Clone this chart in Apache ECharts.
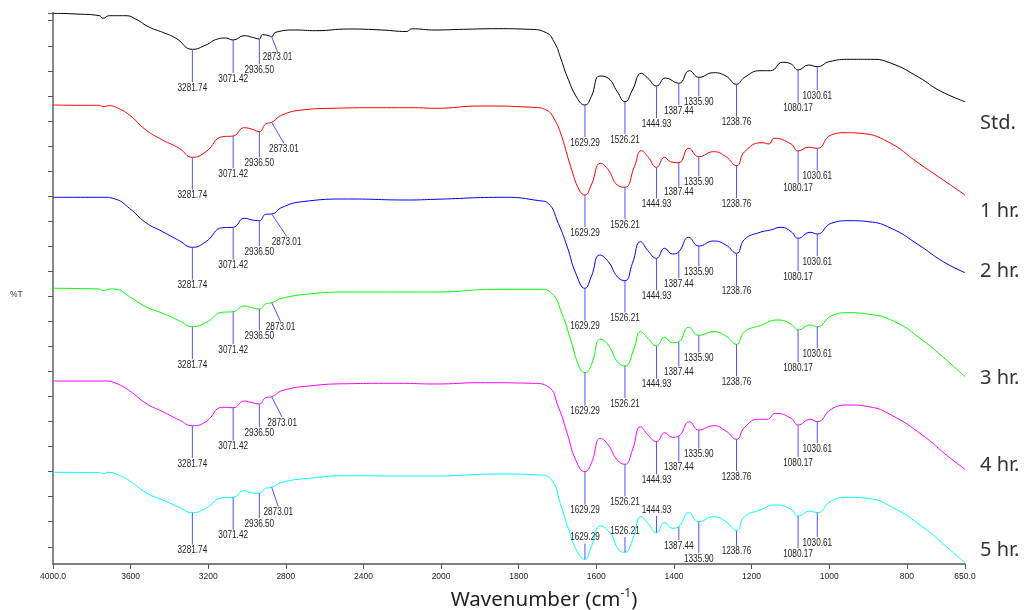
<!DOCTYPE html>
<html><head><meta charset="utf-8">
<script src="https://cdn.jsdelivr.net/npm/echarts@6/dist/echarts.min.js"></script>
<style>html,body{margin:0;padding:0;background:#fff}#c{width:1026px;height:610px}</style>
</head><body><div id="c"></div>
<script>
// ---------- data ----------
const seriesNames = ['Std.', '1 hr.', '2 hr.', '3 hr.', '4 hr.', '5 hr.'];
const seriesColors = ['#000000', '#ff0000', '#0000ff', '#00ff00', '#ff00ff', '#00ffff'];
const peakWavenumbers = [3281.74, 3071.42, 2936.50, 2873.01, 1629.29, 1526.21, 1444.93, 1387.44, 1335.90, 1238.76, 1080.17, 1030.61];
const xTickWavenumbers = [4000, 3600, 3200, 2800, 2400, 2000, 1800, 1600, 1400, 1200, 1000, 800, 650];
const xTickLabels = ['4000.0', '3600', '3200', '2800', '2400', '2000', '1800', '1600', '1400', '1200', '1000', '800', '650.0'];

// [wavenumber (cm-1), %T on the chart's stacked scale]
const specStd = [[4000,550.7],[3880,550],[3760,548.3],[3743,545.7],[3709,548.3],[3623,548.3],[3572,544.7],[3503,536.7],[3435,531.7],[3366,525.7],[3281.74,514.7],[3212,519],[3152,525],[3110,526],[3071.42,524],[3015,528.3],[2973,526.7],[2936.50,525],[2921,529.3],[2887,528.3],[2873.01,527.3],[2853,531.7],[2750,534],[2647,533.3],[2476,535],[2305,534],[2177,532.5],[2151,535.2],[2031,534],[1942,534.7],[1853,535.3],[1773,534.7],[1729,531.3],[1707,520.7],[1693,507.3],[1675,487.3],[1649,465.7],[1629.29,459],[1613,467.3],[1591,488],[1569,485.7],[1546,472.3],[1526.21,462.3],[1507,474],[1484,490.7],[1467,485.7],[1444.93,478],[1422,486],[1387.44,480.7],[1360,493.3],[1335.90,486.7],[1298,491.3],[1266,488],[1238.76,479.7],[1218,486.7],[1178,493.3],[1151,493.3],[1120,501.7],[1098,500],[1080.17,494],[1053,499],[1030.61,497.3],[1000,502.3],[946,504.7],[893,504.7],[840,500.7],[769,486.7],[715,473.3],[650,462.3]];
const spec1h = [[4000,459],[3846,458.7],[3760,458.7],[3743,457.3],[3709,458.3],[3675,456.7],[3606,449],[3521,434],[3435,424],[3349,415.7],[3281.74,406.7],[3212,412.3],[3127,427.3],[3071.42,428],[3015,436.3],[2973,434.7],[2936.50,432.3],[2904,440],[2873.01,441.7],[2819,449],[2716,454],[2562,455.7],[2305,456.3],[2134,456.3],[2031,455.7],[1898,458],[1764,456.7],[1729,454],[1707,444],[1689,427.3],[1666,397.3],[1644,374],[1629.29,369],[1613,379],[1589,400.7],[1569,394],[1546,379],[1526.21,376.7],[1502,397.3],[1484,413.3],[1467,407.3],[1444.93,396.7],[1424,406.7],[1409,402.3],[1387.44,401.3],[1362,415.7],[1335.90,407.3],[1298,412.3],[1266,407.3],[1238.76,398.3],[1218,412.3],[1173,421.3],[1155,420],[1142,425.7],[1098,420],[1080.17,413],[1053,416.7],[1030.61,415.7],[995,429],[955,431.3],[920,430.7],[849,422.3],[769,400.7],[706,384],[650,369]];
const spec2h = [[4000,366.7],[3743,366.7],[3675,364.7],[3606,355.7],[3521,341.3],[3435,332.3],[3349,323.3],[3281.74,316.7],[3212,322.3],[3127,336.3],[3071.42,336.7],[3015,345.7],[2973,344],[2936.50,343.3],[2904,349.7],[2873.01,350],[2819,356.7],[2716,362.3],[2476,365],[2168,364],[2031,364.7],[1835,366.7],[1747,363.3],[1724,360.7],[1698,340.7],[1675,317.3],[1653,290.7],[1629.29,275.7],[1613,287.3],[1591,309],[1569,302.3],[1546,287.3],[1526.21,283.3],[1507,300.7],[1486,322.3],[1467,313.3],[1444.93,305.7],[1424,315.7],[1404,310],[1387.44,312.3],[1362,326.7],[1335.90,318],[1298,323],[1266,319],[1238.76,310.7],[1218,324.7],[1178,331.7],[1151,334],[1124,336.7],[1098,332.3],[1080.17,325.7],[1049,331.7],[1030.61,330],[995,340.7],[946,343.3],[898,342.3],[840,335.7],[769,319],[706,302.3],[650,291.3]];
const spec3h = [[4000,275.7],[3760,275],[3743,273.3],[3709,275],[3675,274.7],[3606,267.3],[3521,257.3],[3435,250.7],[3349,243.3],[3281.74,237.3],[3212,241.3],[3127,251.7],[3071.42,252.3],[3015,258],[2981,256.7],[2936.50,255],[2904,260],[2873.01,261.3],[2819,265.7],[2682,270],[2476,272],[2168,272],[2031,272],[1853,274.7],[1747,274.7],[1715,270.7],[1689,250.7],[1666,224],[1644,197.3],[1629.29,191.3],[1613,199],[1589,224.7],[1569,219],[1546,202.3],[1526.21,198],[1504,214],[1486,232.3],[1467,225.7],[1444.93,218],[1424,226.7],[1404,221.3],[1387.44,222.3],[1362,236.7],[1335.90,228.7],[1298,232.3],[1266,228],[1238.76,219.7],[1218,232.3],[1178,238.3],[1133,244],[1098,240],[1080.17,234],[1049,239],[1030.61,237.3],[995,248],[951,251.3],[902,250],[831,242.3],[760,224],[698,204],[650,187.3]];
const spec4h = [[4000,183],[3726,183],[3675,180.7],[3606,173.3],[3521,160.7],[3435,152.3],[3349,144],[3281.74,138.3],[3212,142.3],[3127,156.7],[3071.42,156.3],[3015,163],[2981,161.7],[2936.50,160],[2904,166.3],[2873.01,167.3],[2819,173.3],[2682,178],[2476,180.3],[2219,180.7],[2031,180],[1898,181.3],[1764,180.7],[1724,177.3],[1698,157.3],[1675,130.7],[1653,104],[1629.29,92.3],[1613,100.7],[1589,125.7],[1569,119],[1546,104],[1526.21,99.7],[1507,114],[1486,137.3],[1467,129],[1444.93,122.3],[1424,131.3],[1404,126.7],[1387.44,128],[1360,142.3],[1335.90,134],[1298,138.3],[1266,133],[1238.76,124.7],[1218,136.7],[1182,144.7],[1160,144.7],[1138,150.7],[1098,145.7],[1080.17,139],[1049,144.7],[1030.61,142.3],[995,154.7],[951,159],[898,157.3],[840,149],[760,129],[698,109],[650,94.7]];
const spec5h = [[4000,91.7],[3760,91.3],[3743,90],[3717,91.7],[3675,90],[3606,83.3],[3521,71.3],[3435,64],[3349,56.7],[3281.74,51.3],[3212,55.7],[3127,66.3],[3071.42,66.7],[3015,73.3],[2981,71.3],[2936.50,70.7],[2904,75.7],[2873.01,76.7],[2819,81.7],[2682,85.7],[2476,88.3],[2219,88],[2031,88],[1853,90],[1747,89],[1715,84],[1693,60.7],[1671,34],[1649,12.3],[1629.29,4.7],[1613,17.3],[1589,38],[1564,30.7],[1542,14],[1526.21,11.7],[1507,24],[1484,47.3],[1467,40.7],[1444.93,31.3],[1424,41.3],[1404,35.7],[1387.44,37.3],[1362,51.3],[1335.90,42.3],[1298,47.3],[1266,42.3],[1238.76,33.3],[1218,47.3],[1178,54],[1138,59],[1098,54.7],[1080.17,48],[1049,53],[1030.61,51.3],[995,63],[951,66.7],[902,65.7],[840,57.3],[760,37.3],[698,17.3],[650,1.3]];
const spectra = [specStd, spec1h, spec2h, spec3h, spec4h, spec5h];

// ---------- annotation layout (label levels on the same scale, per spectrum, per peak) ----------
const peakLabelLevels = [
  [475.7, 485, 493.7, 506.3, 420.7, 424, 440, 452.7, 461.7, 441.3, 455.3, 467.7],
  [368.3, 389.7, 400.7, 414.7, 330.7, 338.7, 359.7, 371.3, 381.7, 360, 375.3, 387.3],
  [278.3, 298.3, 311.7, 321.7, 237.3, 245.7, 267.7, 280, 291.7, 272.3, 286.7, 301.7],
  [199, 214, 227.3, 236.3, 152.3, 159.7, 179.3, 191.7, 205.7, 181.7, 195.7, 209.7],
  [100, 117.3, 130.7, 140.7, 53.3, 61.7, 83.7, 96.3, 109.3, 87, 101, 114.7],
  [13.3, 28.3, 40, 51.3, 26.3, 33, 54, 18, 4.7, 12.3, 10, 21]
];
// 2873.01 labels sit to the right of their peak (slanted leader)
const slantedLabelWavenumber = [2843, 2810, 2796, 2827, 2819, 2839];

// ---------- split wavenumber axis (4000-2000 compressed 2:1) ----------
function toT(w) { return w >= 2000 ? (4000 - w) / 2 : 1000 + (2000 - w); }

const chart = echarts.init(document.getElementById('c'), null, {renderer: 'canvas'});

const lineSeries = spectra.map((s, i) => ({
  name: seriesNames[i],
  type: 'line',
  data: s.map(p => [toT(p[0]), p[1]]),
  showSymbol: false,
  symbol: 'none',
  smooth: 0.5,
  lineStyle: {color: seriesColors[i], width: 1},
  animation: false,
  silent: true,
  z: 2
}));

const annData = [];
spectra.forEach((s, i) => {
  peakWavenumbers.forEach((w, j) => {
    const pt = s.find(p => p[0] === w);
    const lw = (w === 2873.01) ? slantedLabelWavenumber[i] : w;
    annData.push([toT(w), pt[1], toT(lw), peakLabelLevels[i][j], i, j]);
  });
});

const annSeries = {
  type: 'custom',
  data: annData,
  encode: {x: 0, y: 1},
  clip: false,
  silent: true,
  animation: false,
  z: 3,
  renderItem: function (params, api) {
    const p0 = api.coord([api.value(0), api.value(1)]);
    const pl = api.coord([api.value(2), api.value(3)]);
    const below = pl[1] > p0[1];
    const endY = below ? pl[1] - 6 : pl[1] + 6;
    const text = peakWavenumbers[api.value(5)].toFixed(2);
    return {
      type: 'group',
      children: [
        {type: 'line', shape: {x1: p0[0], y1: p0[1], x2: pl[0], y2: endY},
         style: {stroke: '#5252ff', lineWidth: 1}},
        {type: 'text', x: pl[0], y: pl[1], scaleX: 0.82,
         style: {text: text, fill: '#222', font: '10px "Liberation Sans"', align: 'center', verticalAlign: 'middle'}}
      ]
    };
  }
};

const xTickT = xTickWavenumbers.map(toT);
const yTickValues = [551];
for (let k = 0; k < 22; k++) yTickValues.push(543.3 - 25.05 * k);

const labelYs = [123, 211, 271, 378, 465, 550];

const option = {
  backgroundColor: '#ffffff',
  animation: false,
  grid: {left: 53, right: 61, top: 13, bottom: 46, containLabel: false},
  xAxis: {
    type: 'value', min: 0, max: 2350, interval: 200,
    axisLine: {show: true, lineStyle: {color: '#555', width: 1.5}},
    axisTick: {show: true, length: 5, lineStyle: {color: '#555'}, customValues: xTickT},
    axisLabel: {
      customValues: xTickT, margin: 8,
      color: '#222', fontSize: 8.5, fontFamily: 'Liberation Sans',
      formatter: function (v) {
        const idx = xTickT.findIndex(t => Math.abs(t - v) < 1e-6);
        return idx >= 0 ? xTickLabels[idx] : '';
      }
    },
    splitLine: {show: false}
  },
  yAxis: {
    type: 'value', min: 0, max: 551,
    axisLine: {show: true, lineStyle: {color: '#888', width: 2}},
    axisTick: {show: true, length: 5, lineStyle: {color: '#555'}, customValues: yTickValues},
    axisLabel: {show: false, customValues: yTickValues},
    splitLine: {show: false}
  },
  series: lineSeries.concat([annSeries]),
  graphic: [
    {type: 'text', left: 10, top: 290, style: {text: '%T', fill: '#333', font: '8.5px "Liberation Sans"'}},
    {type: 'text', x: 544, y: 600, style: {
      text: '{a|Wavenumber (cm}{s|-1}{a|)}', align: 'center', verticalAlign: 'middle',
      rich: {
        a: {fontSize: 20.5, fontFamily: 'Noto Sans', fill: '#222', lineHeight: 24},
        s: {fontSize: 12, fontFamily: 'Noto Sans', fill: '#222', lineHeight: 24, padding: [0, 0, 12, 0]}
      }
    }}
  ].concat(seriesNames.map((n, i) => ({
    type: 'text', x: 980, y: labelYs[i],
    style: {text: n, fill: '#333', font: '20px "Noto Sans"', align: 'left', verticalAlign: 'middle'}
  })))
};
chart.setOption(option);
</script>
</body></html>
